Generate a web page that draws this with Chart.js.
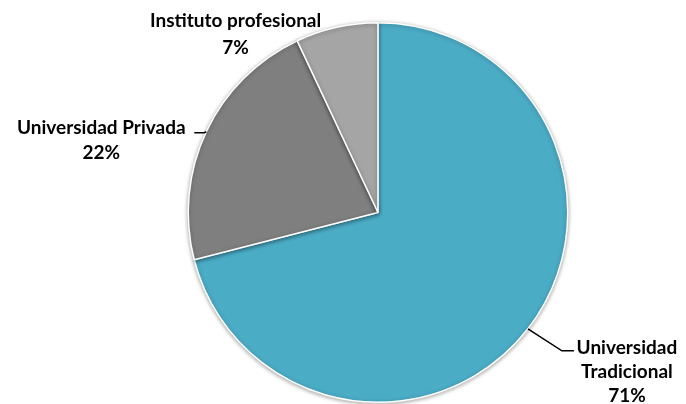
<!DOCTYPE html>
<html>
<head>
<meta charset="utf-8">
<script src="https://cdn.jsdelivr.net/npm/chart.js@4"></script>
<style>
  html, body { margin: 0; padding: 0; background: #ffffff; }
  #wrap { width: 686px; height: 404px; position: relative; }
</style>
</head>
<body>
<div id="wrap"><canvas id="pieChart"></canvas></div>
<script>
// ------------------------------
// Data
// ------------------------------

const categories = ["Universidad Tradicional", "Universidad Privada", "Instituto profesional"];
const shares = [71, 22, 7];
const sliceColors = ["#4BACC6", "#7F7F7F", "#A5A5A5"];

// label text lines (as shown on the chart)
const labelLines = [
  ["Universidad", "Tradicional", "71%"],
  ["Universidad Privada", "22%"],
  ["Instituto profesional", "7%"]
];

// ------------------------------
// Label placement (offsets from slice edge midpoint)
// ------------------------------

const labelStyle = [
  { leader: [[34, 22], [46, 22]], tx: 99, ty: 19, lh: 24 },
  { leader: [[-2, 1], [-12, 1]], tx: -105, ty: -4, lh: 25 },
  { leader: null, tx: -101, ty: -6, lh: 27 }
];

const labelPlugin = {
  id: "pieLabels",
  afterDatasetsDraw(chart) {
    const ctx = chart.ctx;
    const arcs = chart.getDatasetMeta(0).data;
    ctx.save();
    ctx.font = "bold 19px Lato";
    ctx.fillStyle = "#000000";
    ctx.strokeStyle = "#000000";
    ctx.lineWidth = 1.5;
    ctx.textAlign = "center";
    ctx.textBaseline = "middle";
    arcs.forEach((arc, i) => {
      const mid = (arc.startAngle + arc.endAngle) / 2;
      const ex = arc.x + Math.cos(mid) * arc.outerRadius;
      const ey = arc.y + Math.sin(mid) * arc.outerRadius;
      const st = labelStyle[i];
      if (st.leader) {
        ctx.beginPath();
        ctx.moveTo(ex, ey);
        st.leader.forEach(p => ctx.lineTo(ex + p[0], ey + p[1]));
        ctx.stroke();
      }
      labelLines[i].forEach((line, k) => {
        ctx.fillText(line, ex + st.tx, ey + st.ty + k * st.lh);
      });
    });
    ctx.restore();
  }
};

const shadowPlugin = {
  id: "pieShadow",
  beforeDatasetDraw(chart) {
    const ctx = chart.ctx;
    ctx.save();
    ctx.shadowColor = "rgba(0,0,0,0.35)";
    ctx.shadowBlur = 4;
    ctx.shadowOffsetX = 0;
    ctx.shadowOffsetY = 1;
  },
  afterDatasetDraw(chart) {
    chart.ctx.restore();
  }
};

// ------------------------------
// Pie Chart
// ------------------------------

new Chart(
  document.getElementById("pieChart"),
  {
    type: "pie",
    data: {
      labels: categories,
      datasets: [{
        data: shares,
        backgroundColor: sliceColors,
        borderColor: "#ffffff",
        borderWidth: 1.5
      }]
    },
    options: {
      responsive: true,
      maintainAspectRatio: false,
      animation: false,
      layout: {
        padding: { top: 22, bottom: 1, left: 187, right: 117 }
      },
      plugins: {
        legend: { display: false },
        tooltip: { enabled: false }
      }
    },
    plugins: [shadowPlugin, labelPlugin]
  }
);
</script>
</body>
</html>
